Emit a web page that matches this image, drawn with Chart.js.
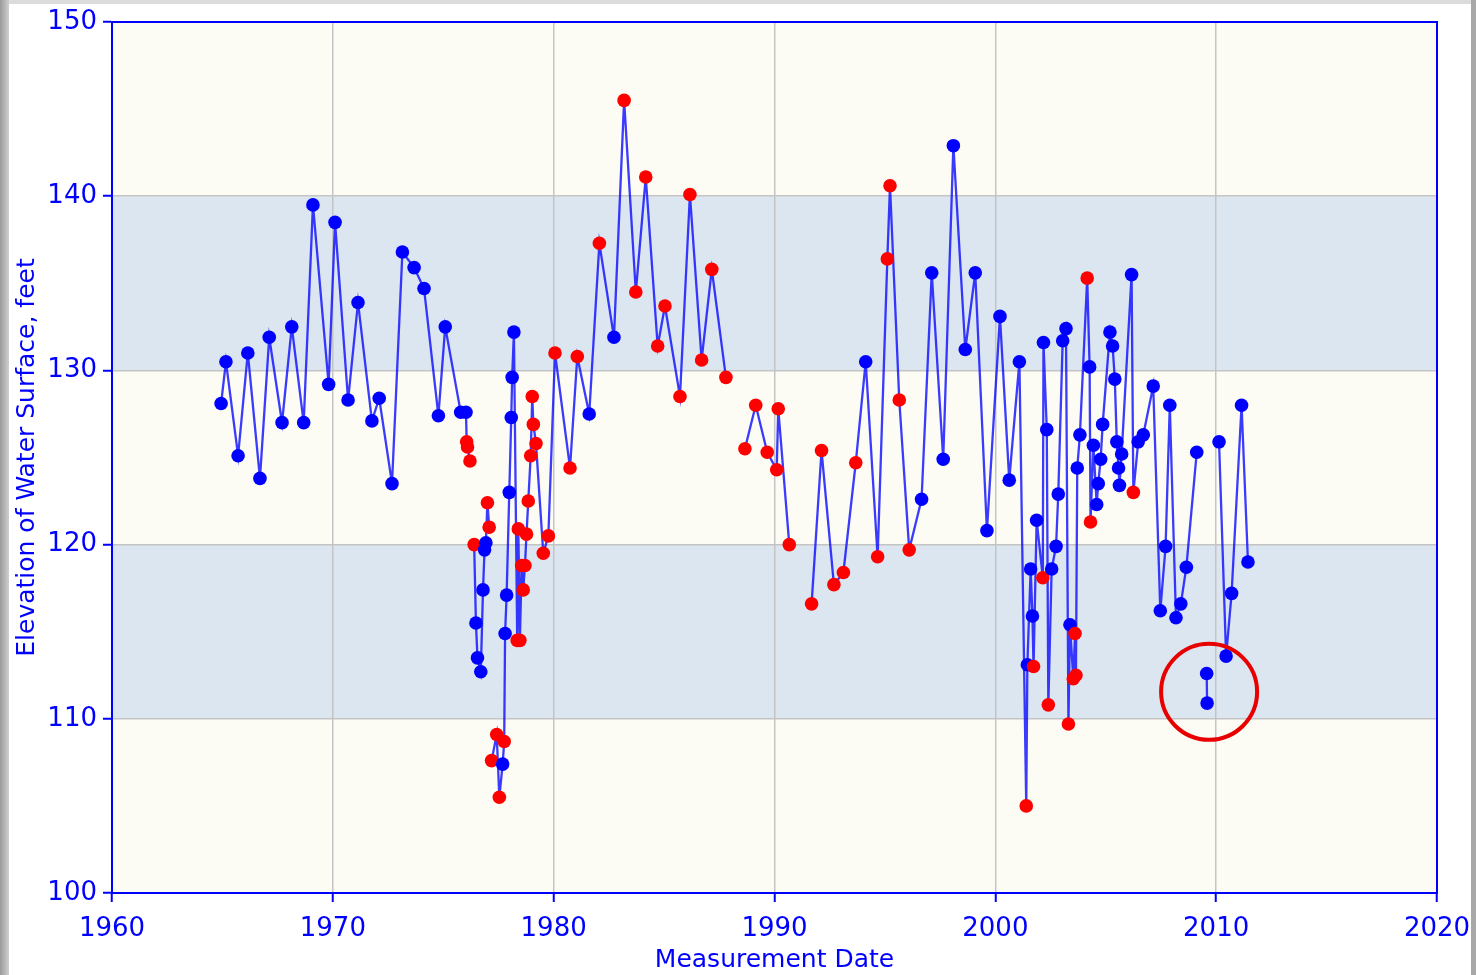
<!DOCTYPE html>
<html>
<head>
<meta charset="utf-8">
<script src="https://cdn.jsdelivr.net/npm/chart.js"></script>
<style>
html, body { margin:0; padding:0; }
body { width:1476px; height:975px; position:relative; overflow:hidden; background:#dcdcdc; }
#sheet { position:absolute; left:9px; top:4px; width:1462px; height:971px; background:#fff; }
#leftedge { position:absolute; left:0; top:0; width:9px; height:975px; background:linear-gradient(to right,#9a9a9a,#cfcfcf); }
#rightedge { position:absolute; left:1471px; top:0; width:5px; height:975px; background:#a8a8a8; }
canvas { position:absolute; left:0; top:0; }
</style>
</head>
<body>
<div id="sheet"></div><div id="leftedge"></div><div id="rightedge"></div>
<canvas id="myChart" width="1476" height="975"></canvas>
<script>
// measurement dates (decimal years); null level = break in the record
var measDates = [
  1964.94,1965.16,1965.71,1966.15,1966.70,1967.12,1967.70,1968.14,1968.68,1969.10,
  1969.81,1970.10,1970.69,1971.14,1971.77,1972.10,1972.68,1973.15,1973.68,1974.13,
  1974.78,1975.09,1975.79,1976.03,1976.06,1976.10,1976.21,
  1976.30,
  1976.40,1976.48,1976.55,1976.70,1976.80,1976.87,1976.93,1977.00,1977.08,
  1977.14,
  1977.19,1977.42,1977.54,1977.69,1977.76,1977.80,1977.87,1977.99,1978.08,1978.12,1978.20,
  1978.35,1978.40,1978.47,1978.55,1978.62,1978.70,1978.77,1978.85,1978.96,1979.03,1979.08,1979.20,1979.53,1979.76,
  1980.06,1980.74,1981.07,1981.61,1982.07,1982.73,1983.19,1983.72,1984.17,1984.71,1985.04,1985.72,1986.17,1986.70,1987.16,1987.80,
  1988.20,
  1988.66,1989.15,1989.67,1990.10,1990.17,1990.67,
  1991.20,
  1991.68,1992.13,1992.69,1993.12,1993.68,1994.13,1994.67,1995.11,1995.23,1995.65,1996.10,1996.66,1997.12,1997.64,1998.10,1998.64,1999.09,1999.62,
  2000.21,2000.63,2001.09,2001.40,2001.45,2001.60,2001.68,2001.73,2001.87,2002.15,2002.18,2002.33,2002.40,2002.55,2002.75,2002.85,2003.05,2003.20,
  2003.31,2003.38,2003.53,2003.61,2003.65,2003.71,2003.83,2004.16,2004.27,2004.31,2004.44,2004.59,2004.66,2004.77,2004.86,2005.19,2005.31,2005.41,2005.50,2005.58,2005.62,2005.72,
  2006.17,2006.25,2006.47,2006.70,2007.15,2007.47,2007.71,2007.90,2008.18,2008.40,2008.65,2009.12,
  2009.35,
  2009.57,2009.59,
  2009.85,
  2010.13,2010.45,2010.70,2011.15,2011.44
];
var waterLevels = [
  128.1,130.5,125.1,131.0,123.8,131.9,127.0,132.5,127.0,139.5,
  129.2,138.5,128.3,133.9,127.1,128.4,123.5,136.8,135.9,134.7,
  127.4,132.5,127.6,127.6,125.9,125.6,124.8,
  null,
  120.0,115.5,113.5,112.7,117.4,119.7,120.1,122.4,121.0,
  null,
  107.6,109.1,105.5,107.4,108.7,114.9,117.1,123.0,127.3,129.6,132.2,
  114.5,120.9,114.5,118.8,117.4,118.8,120.6,122.5,125.1,128.5,126.9,125.8,119.5,120.5,
  131.0,124.4,130.8,127.5,137.3,131.9,145.5,134.5,141.1,131.4,133.7,128.5,140.1,130.6,135.8,129.6,
  null,
  125.5,128.0,125.3,124.3,127.8,120.0,
  null,
  116.6,125.4,117.7,118.4,124.7,130.5,119.3,136.4,140.6,128.3,119.7,122.6,135.6,124.9,142.9,131.2,135.6,120.8,
  133.1,123.7,130.5,105.0,113.1,118.6,115.9,113.0,121.4,118.1,131.6,126.6,110.8,118.6,119.9,122.9,131.7,132.4,
  109.7,115.4,112.3,114.9,112.5,124.4,126.3,135.3,130.2,121.3,125.7,122.3,123.5,124.9,126.9,132.2,131.4,129.5,125.9,124.4,123.4,125.2,
  135.5,123.0,125.9,126.3,129.1,116.2,119.9,128.0,115.8,116.6,118.7,125.3,
  null,
  112.6,110.9,
  null,
  125.9,113.6,117.2,128.0,119.0
];
// 1 = flagged measurement (red dot), 0 = normal (blue dot)
var flagged = [
  0,0,0,0,0,0,0,0,0,0,
  0,0,0,0,0,0,0,0,0,0,
  0,0,0,0,1,1,1,
  0,
  1,0,0,0,0,0,0,1,1,
  0,
  1,1,1,0,1,0,0,0,0,0,0,
  1,1,1,1,1,1,1,1,1,1,1,1,1,1,
  1,1,1,0,1,0,1,1,1,1,1,1,1,1,1,1,
  0,
  1,1,1,1,1,1,
  0,
  1,1,1,1,1,0,1,1,1,1,1,0,0,0,0,0,0,0,
  0,0,0,1,0,0,0,1,0,1,0,0,1,0,0,0,0,0,
  1,0,1,1,1,0,0,1,0,1,0,0,0,0,0,0,0,0,0,0,0,0,
  0,1,0,0,0,0,0,0,0,0,0,0,
  0,
  0,0,
  0,
  0,0,0,0,0
];
var xTickYears = [1960,1970,1980,1990,2000,2010,2020];
var yTickLevels = [100,110,120,130,140,150];
var shadedBands = [[110,120],[130,140]];
var circledPoint = [2009.68, 111.55];

var BLUE = '#0000ff';
var pts = [];
var dotColors = [];
for (var i = 0; i < measDates.length; i++) {
  pts.push({x: measDates[i], y: waterLevels[i]});
  dotColors.push(flagged[i] ? '#ff0000' : '#0000ff');
}

var plotBackground = {
  id: 'plotBackground',
  beforeDraw: function(chart) {
    var c = chart.ctx, a = chart.chartArea, y = chart.scales.y;
    c.save();
    c.fillStyle = '#fcfcf4';
    c.fillRect(a.left, a.top, a.right - a.left, a.bottom - a.top);
    c.fillStyle = '#dce6f1';
    shadedBands.forEach(function(b) {
      var top = y.getPixelForValue(b[1]), bot = y.getPixelForValue(b[0]);
      c.fillRect(a.left, top, a.right - a.left, bot - top);
    });
    c.restore();
  },
  beforeDatasetsDraw: function(chart) {
    var c = chart.ctx, a = chart.chartArea;
    c.save();
    c.strokeStyle = BLUE;
    c.lineWidth = 2;
    c.strokeRect(a.left, a.top, a.right - a.left, a.bottom - a.top);
    c.restore();
  },
  afterDatasetsDraw: function(chart) {
    var c = chart.ctx;
    var cx = chart.scales.x.getPixelForValue(circledPoint[0]);
    var cy = chart.scales.y.getPixelForValue(circledPoint[1]);
    c.save();
    c.strokeStyle = '#e80000';
    c.lineWidth = 4;
    c.beginPath();
    c.arc(cx, cy, 48, 0, Math.PI * 2);
    c.stroke();
    c.restore();
  }
};

var ctx = document.getElementById('myChart').getContext('2d');
var myChart = new Chart(ctx, {
  type: 'line',
  data: {
    datasets: [{
      data: pts,
      borderColor: 'rgba(10,10,255,0.8)',
      borderWidth: 2.3,
      pointRadius: 6.8,
      pointBackgroundColor: dotColors,
      pointBorderColor: dotColors,
      pointBorderWidth: 0,
      spanGaps: false,
      tension: 0,
      fill: false
    }]
  },
  options: {
    responsive: false,
    animation: false,
    devicePixelRatio: 1,
    layout: { padding: { left: 0, top: 22, right: 39, bottom: 0 } },
    plugins: { legend: { display: false }, tooltip: { enabled: false } },
    scales: {
      x: {
        type: 'linear',
        min: 1960, max: 2020,
        afterBuildTicks: function(s) { s.ticks = xTickYears.map(function(v) { return {value: v}; }); },
        afterFit: function(s) { s.height = 82; s.paddingLeft = 0; s.paddingRight = 0; },
        ticks: {
          color: BLUE, padding: 12, maxRotation: 0,
          font: { family: 'DejaVu Sans', size: 26 },
          callback: function(v) { return String(v); }
        },
        grid: { color: 'rgb(196,196,196)', lineWidth: 1.5, tickColor: BLUE, tickLength: 9, tickWidth: 2 },
        border: { color: BLUE, width: 2 },
        title: {
          display: true, text: 'Measurement Date', color: BLUE,
          font: { family: 'DejaVu Sans', size: 25 }, padding: { top: 0, bottom: 0 }
        }
      },
      y: {
        min: 100, max: 150,
        afterBuildTicks: function(s) { s.ticks = yTickLevels.map(function(v) { return {value: v}; }); },
        afterFit: function(s) { s.width = 112; s.paddingTop = 0; s.paddingBottom = 0; },
        ticks: {
          color: BLUE, padding: 6,
          font: { family: 'DejaVu Sans', size: 26 },
          callback: function(v) { return String(v); }
        },
        grid: { color: 'rgb(196,196,196)', lineWidth: 1.5, tickColor: BLUE, tickLength: 9, tickWidth: 2 },
        border: { color: BLUE, width: 2 },
        title: {
          display: true, text: 'Elevation of Water Surface, feet', color: BLUE,
          font: { family: 'DejaVu Sans', size: 25 }, padding: { top: 12, bottom: 0 }
        }
      }
    }
  },
  plugins: [plotBackground]
});
</script>
</body>
</html>
